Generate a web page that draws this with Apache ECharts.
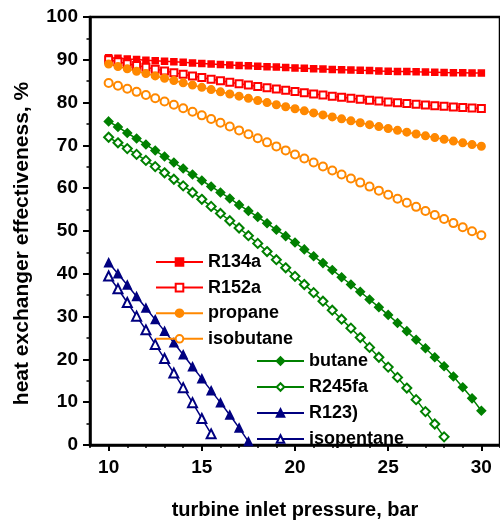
<!DOCTYPE html>
<html><head><meta charset="utf-8">
<script src="https://cdn.jsdelivr.net/npm/echarts@6/dist/echarts.min.js"></script>
<style>html,body{margin:0;padding:0;background:#fff}#c{width:500px;height:525px}</style>
</head><body><div id="c"></div>
<script>
const pressure = [10,10.5,11,11.5,12,12.5,13,13.5,14,14.5,15,15.5,16,16.5,17,17.5,18,18.5,19,19.5,20,20.5,21,21.5,22,22.5,23,23.5,24,24.5,25,25.5,26,26.5,27,27.5,28,28.5,29,29.5,30];
const r134a = [90.50,90.35,90.21,90.06,89.92,89.79,89.65,89.52,89.40,89.27,89.15,89.03,88.92,88.80,88.69,88.59,88.48,88.38,88.29,88.19,88.10,88.01,87.93,87.84,87.76,87.69,87.61,87.54,87.48,87.41,87.35,87.29,87.24,87.18,87.13,87.09,87.04,87.00,86.97,86.93,86.90];
const r152a = [90.00,89.55,89.10,88.66,88.24,87.82,87.41,87.00,86.61,86.23,85.85,85.48,85.12,84.77,84.43,84.10,83.78,83.46,83.15,82.86,82.57,82.29,82.01,81.75,81.50,81.25,81.01,80.78,80.56,80.35,80.15,79.96,79.77,79.59,79.42,79.27,79.12,78.97,78.84,78.72,78.60];
const propane = [89.00,88.44,87.88,87.32,86.77,86.23,85.68,85.15,84.61,84.09,83.56,83.04,82.52,82.01,81.50,81.00,80.50,80.01,79.51,79.03,78.55,78.07,77.59,77.13,76.66,76.20,75.74,75.29,74.84,74.40,73.96,73.52,73.09,72.67,72.24,71.83,71.41,71.00,70.60,70.19,69.80];
const isobutane = [84.60,83.92,83.22,82.51,81.78,81.03,80.26,79.48,78.68,77.86,77.02,76.17,75.30,74.41,73.51,72.59,71.65,70.71,69.77,68.83,67.89,66.95,66.01,65.07,64.13,63.19,62.25,61.31,60.37,59.43,58.49,57.54,56.59,55.64,54.69,53.74,52.79,51.84,50.89,49.94,48.99];
const butane = [75.6,74.3,72.9,71.6,70.2,68.8,67.4,66.0,64.6,63.2,61.8,60.4,59.0,57.6,56.1,54.7,53.3,51.8,50.3,48.8,47.3,45.7,44.1,42.5,40.9,39.2,37.5,35.8,34.0,32.2,30.4,28.5,26.6,24.6,22.6,20.5,18.4,16.0,13.5,10.9,8.0];
const r245fa = [71.9,70.6,69.25,67.9,66.5,65.05,63.6,62.1,60.55,59.0,57.4,55.75,54.1,52.4,50.7,48.9,47.1,45.2,43.3,41.4,39.4,37.5,35.6,33.6,31.5,29.4,27.3,25.1,22.8,20.5,18.2,15.8,13.3,10.6,7.8,4.9,1.9];
const r123 = [42.6,40.0,37.4,34.7,32.0,29.3,26.6,23.9,21.1,18.3,15.5,12.7,9.9,7.0,4.0,0.8];
const isopentane = [39.5,36.5,33.3,30.1,26.9,23.5,20.2,16.8,13.4,9.9,6.2,2.6];
const xMajorTicks = [10,15,20,25,30];
const xMinorTicks = [9,11,12,13,14,16,17,18,19,21,22,23,24,26,27,28,29,31];
const legendLeft = ['R134a','R152a','propane','isobutane'];
const legendRight = ['butane','R245fa','R123)','isopentane'];

const FONT = '"Liberation Sans", Arial, sans-serif';
const RED = '#ff0000', ORANGE = '#ff8800', GREEN = '#008000', NAVY = '#000080';

function pts(vals){ return vals.map((v,i)=>[pressure[i], v]); }
function mk(name, vals, color, symbol, size, hollow){
  return {
    type:'line', name, data: pts(vals), symbol, symbolSize: size,
    lineStyle:{color, width:1.5},
    itemStyle: hollow ? {color, borderWidth:1.3} : {color, borderColor:color, borderWidth:1.5},
    animation:false
  };
}

const chart = echarts.init(document.getElementById('c'), null, {renderer:'canvas'});
const legendText = {fontSize:18, fontWeight:'bold', color:'#000', fontFamily:FONT, lineHeight:18};
chart.setOption({
  backgroundColor:'#fff',
  grid:{left:90, top:17, right:-3, bottom:73, show:true, borderColor:'#000', borderWidth:2.5},
  legend:[
    {data:legendLeft, orient:'vertical', left:155, top:253, padding:0, itemWidth:47, itemHeight:9.5, itemGap:7.6, selectedMode:false, textStyle:legendText},
    {data:legendRight, orient:'vertical', left:256, top:352, padding:0, itemWidth:47, itemHeight:9.5, itemGap:8, selectedMode:false, textStyle:legendText}
  ],
  xAxis:[
    {type:'value', min:9, max:31, position:'bottom',
     axisLine:{show:true, lineStyle:{color:'#000', width:2.5}},
     axisTick:{show:true, customValues:xMajorTicks, length:6, lineStyle:{color:'#000', width:2}},
     axisLabel:{customValues:xMajorTicks, margin:13, fontSize:19, fontWeight:'bold', color:'#000', fontFamily:FONT},
     splitLine:{show:false},
     name:'turbine inlet pressure, bar', nameLocation:'middle', nameGap:55,
     nameTextStyle:{fontSize:20, fontWeight:'bold', color:'#000', fontFamily:FONT}},
    {type:'value', min:9, max:31, position:'bottom',
     axisLine:{show:false},
     axisTick:{show:true, customValues:xMinorTicks, length:3, lineStyle:{color:'#000', width:1.5}},
     axisLabel:{show:false}, splitLine:{show:false}}
  ],
  yAxis:{type:'value', min:0, max:100, interval:10,
     axisLine:{show:true, lineStyle:{color:'#000', width:2.5}},
     axisTick:{show:true, length:7, lineStyle:{color:'#000', width:2}},
     minorTick:{show:true, splitNumber:2, length:3.5, lineStyle:{color:'#000', width:1.5}},
     axisLabel:{margin:12, fontSize:19, fontWeight:'bold', color:'#000', fontFamily:FONT},
     splitLine:{show:false},
     name:'heat exchanger effectiveness, %', nameLocation:'middle', nameGap:57,
     nameTextStyle:{fontSize:21, fontWeight:'bold', color:'#000', fontFamily:FONT, padding:[0,25,0,0]}},
  series:[
    mk('R134a', r134a, RED, 'rect', 6, false),
    mk('R152a', r152a, RED, 'emptyRect', 7, true),
    mk('propane', propane, ORANGE, 'circle', 7.5, false),
    mk('isobutane', isobutane, ORANGE, 'emptyCircle', 8, true),
    mk('butane', butane, GREEN, 'diamond', 8.5, false),
    mk('R245fa', r245fa, GREEN, 'emptyDiamond', 9, true),
    mk('R123)', r123, NAVY, 'triangle', 8, false),
    mk('isopentane', isopentane, NAVY, 'emptyTriangle', 9, true)
  ]
});
</script></body></html>
